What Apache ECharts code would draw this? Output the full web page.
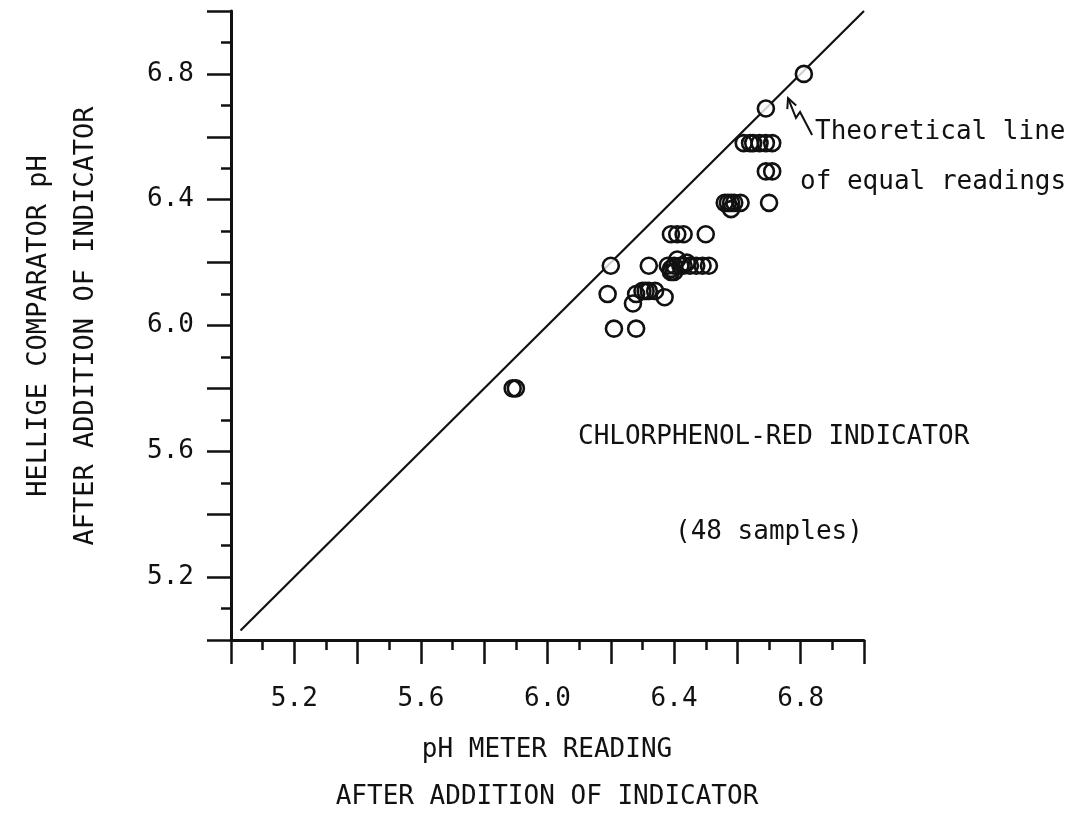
<!DOCTYPE html>
<html>
<head>
<meta charset="utf-8">
<title>pH meter vs Hellige comparator</title>
<script src="https://cdn.jsdelivr.net/npm/echarts@6/dist/echarts.min.js"></script>
<style>
  html, body { margin: 0; padding: 0; background: #ffffff; }
  #chart { width: 1088px; height: 819px; }
</style>
</head>
<body>
<div id="chart"></div>
<script>
// pH meter reading after addition of indicator (x) for each sample
const meterPH = [
  6.81, 6.69,
  6.62, 6.64, 6.65, 6.67, 6.69, 6.71,
  6.69, 6.71,
  6.56, 6.57, 6.58, 6.59, 6.61, 6.58, 6.70,
  6.39, 6.41, 6.43, 6.50,
  6.20, 6.32, 6.38, 6.39, 6.40, 6.40, 6.41, 6.42, 6.43, 6.44, 6.45, 6.47, 6.49, 6.51, 6.39,
  6.19, 6.28, 6.30, 6.31, 6.32, 6.34, 6.37, 6.27,
  6.21, 6.28,
  5.89, 5.90
];
// Hellige comparator pH after addition of indicator (y) for the same samples
const comparatorPH = [
  6.80, 6.69,
  6.58, 6.58, 6.58, 6.58, 6.58, 6.58,
  6.49, 6.49,
  6.39, 6.39, 6.39, 6.39, 6.39, 6.37, 6.39,
  6.29, 6.29, 6.29, 6.29,
  6.19, 6.19, 6.19, 6.18, 6.19, 6.17, 6.21, 6.19, 6.19, 6.20, 6.19, 6.19, 6.19, 6.19, 6.17,
  6.10, 6.10, 6.11, 6.11, 6.11, 6.11, 6.09, 6.07,
  5.99, 5.99,
  5.80, 5.80
];
// labelled ticks on each axis
const xTickLabels = ['5.2', '5.6', '6.0', '6.4', '6.8'];
const yTickLabels = ['5.2', '5.6', '6.0', '6.4', '6.8'];
// line of equal readings (y = x)
const equalLine = [[5.03, 5.03], [7.0, 7.0]];
// zig-zag pointer from the note to the line: tail ... head
const pointerPath = [[6.836, 6.606], [6.798, 6.679], [6.785, 6.660], [6.760, 6.723]];
// note texts
const noteLine1 = 'Theoretical line';
const noteLine2 = 'of equal readings';
const indicatorText = 'CHLORPHENOL-RED INDICATOR';
const sampleText = '(48 samples)';
const yNameLines = ['HELLIGE COMPARATOR pH', 'AFTER ADDITION OF INDICATOR'];
const xNameLines = ['pH METER READING', 'AFTER ADDITION OF INDICATOR'];

const INK = '#111111';
const FONT_FAMILY = '"DejaVu Sans Mono", "Liberation Mono", monospace';
const FONT_SIZE = 26;

const points = meterPH.map((x, i) => [x, comparatorPH[i]]);

function tickFormatter(list) {
  return function (v) {
    const s = (Math.round(v * 10) / 10).toFixed(1);
    return list.indexOf(s) >= 0 ? s : '';
  };
}

function axisCommon(labels, margin) {
  return {
    type: 'value',
    min: 5.0,
    max: 7.0,
    interval: 0.2,
    axisLine: { show: true, onZero: false, lineStyle: { color: INK, width: 3 } },
    axisTick: { show: true, inside: false, length: 24, lineStyle: { color: INK, width: 2.5 } },
    minorTick: { show: true, splitNumber: 2, length: 10, lineStyle: { color: INK, width: 2.5 } },
    splitLine: { show: false },
    minorSplitLine: { show: false },
    axisLabel: {
      show: true,
      margin: margin,
      color: INK,
      fontFamily: FONT_FAMILY,
      fontSize: FONT_SIZE,
      showMinLabel: true,
      showMaxLabel: true,
      hideOverlap: false,
      formatter: tickFormatter(labels)
    }
  };
}

const chart = echarts.init(document.getElementById('chart'), null, { renderer: 'canvas' });

const textStyle = (extra, size) => Object.assign({
  fill: INK,
  font: (size || FONT_SIZE) + 'px ' + FONT_FAMILY
}, extra);

const option = {
  animation: false,
  backgroundColor: '#ffffff',
  grid: { left: 231, right: 224, top: 11, bottom: 179, containLabel: false, outerBoundsMode: 'none' },
  xAxis: axisCommon(xTickLabels, 46),
  yAxis: axisCommon(yTickLabels, 37),
  series: [
    {
      name: 'equal readings',
      type: 'line',
      data: equalLine,
      symbol: 'none',
      silent: true,
      z: 1,
      lineStyle: { color: INK, width: 2.2 }
    },
    {
      // white discs under the rings so the line stops at each circle
      name: 'mask',
      type: 'scatter',
      data: points,
      symbol: 'circle',
      symbolSize: 16,
      silent: true,
      z: 2,
      itemStyle: { color: '#ffffff', borderWidth: 0 }
    },
    {
      name: 'samples',
      type: 'scatter',
      data: points,
      symbol: 'circle',
      symbolSize: 16,
      z: 3,
      itemStyle: { color: 'rgba(0,0,0,0)', borderColor: INK, borderWidth: 2.6, opacity: 1 }
    }
  ]
};

chart.setOption(option);

// pointer polyline and open arrow head, placed through the grid's coordinate system
const px = pointerPath.map(p => chart.convertToPixel({ gridIndex: 0 }, p));
const head = px[px.length - 1];
const prev = px[px.length - 2];
const dx = head[0] - prev[0], dy = head[1] - prev[1];
const len = Math.sqrt(dx * dx + dy * dy);
const ux = dx / len, uy = dy / len;
const wing = 11, spread = 0.45;
function rot(x, y, a) { return [x * Math.cos(a) - y * Math.sin(a), x * Math.sin(a) + y * Math.cos(a)]; }
const w1 = rot(-ux, -uy, spread), w2 = rot(-ux, -uy, -spread);

chart.setOption({
  graphic: [
    { type: 'polyline', shape: { points: px }, style: { stroke: INK, lineWidth: 2, fill: null }, z: 10 },
    { type: 'polyline', shape: { points: [[head[0] + w1[0] * wing, head[1] + w1[1] * wing], head, [head[0] + w2[0] * wing, head[1] + w2[1] * wing]] },
      style: { stroke: INK, lineWidth: 2, fill: null }, z: 10 },
    { type: 'text', x: 815, y: 132, style: textStyle({ text: noteLine1, align: 'left', verticalAlign: 'middle' }), z: 10 },
    { type: 'text', x: 800, y: 182, style: textStyle({ text: noteLine2, align: 'left', verticalAlign: 'middle' }), z: 10 },
    { type: 'text', x: 578, y: 437, style: textStyle({ text: indicatorText, align: 'left', verticalAlign: 'middle' }), z: 10 },
    { type: 'text', x: 675, y: 532, style: textStyle({ text: sampleText, align: 'left', verticalAlign: 'middle' }), z: 10 },
    { type: 'text', x: 39, y: 326, rotation: Math.PI / 2, style: textStyle({ text: yNameLines[0], align: 'center', verticalAlign: 'middle' }, 27), z: 10 },
    { type: 'text', x: 86, y: 326, rotation: Math.PI / 2, style: textStyle({ text: yNameLines[1], align: 'center', verticalAlign: 'middle' }, 27), z: 10 },
    { type: 'text', x: 547, y: 750, style: textStyle({ text: xNameLines[0], align: 'center', verticalAlign: 'middle' }), z: 10 },
    { type: 'text', x: 547, y: 797, style: textStyle({ text: xNameLines[1], align: 'center', verticalAlign: 'middle' }), z: 10 }
  ]
});
</script>
</body>
</html>
